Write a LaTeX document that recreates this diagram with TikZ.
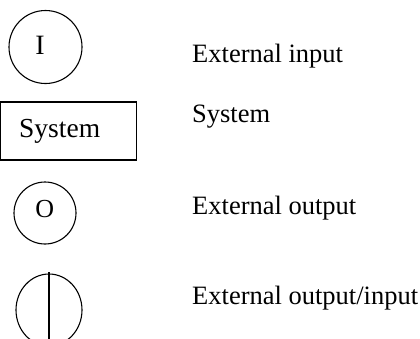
\documentclass[tikz,border=0pt]{standalone}
\usepackage{fontspec}
\setmainfont{Liberation Serif}
\usetikzlibrary{shapes.geometric}
\begin{document}
\begin{tikzpicture}[x=1pt,y=-1pt,
  sym/.style={draw,circle,line width=1.1pt,inner sep=0pt},
  symtext/.style={anchor=base,inner sep=0pt},
  sysbox/.style={draw,line width=1.4pt,minimum width=136pt,minimum height=58pt,inner sep=0pt},
  lbl/.style={anchor=base west,inner sep=0pt,font=\fontsize{26.5}{30}\selectfont}]
\path[use as bounding box] (0,0) rectangle (420,338);
\clip (0,0) rectangle (420,338);
% external input
\node[sym,minimum size=73pt] (ci) at (45.5,47) {};
\node[symtext,font=\fontsize{28}{30}\selectfont] (ti) at (40,54) {I};
% system
\node[sysbox] (sb) at (68.5,131) {};
\node[anchor=base west,inner sep=0pt,font=\fontsize{27.5}{30}\selectfont] (ts) at (19,137) {System};
% external output
\node[sym,minimum size=62pt] (co) at (45,213) {};
\node[symtext,font=\fontsize{26}{28}\selectfont] (to) at (44.7,217) {O};
% external output/input
\node[draw,ellipse,line width=1.1pt,inner sep=0pt,minimum width=66pt,minimum height=72pt] (cio) at (49,310) {};
\coordinate (lt) at (49,272);
\coordinate (lb) at (49,345);
\draw[line width=1.1pt] (lt) -- (lb);
% labels
\node[lbl] (l1) at (192,62) {External input};
\node[lbl] (l2) at (192,122) {System};
\node[lbl] (l3) at (192,214) {External output};
\node[lbl] (l4) at (192,304) {External output/input};
\end{tikzpicture}
\end{document}
